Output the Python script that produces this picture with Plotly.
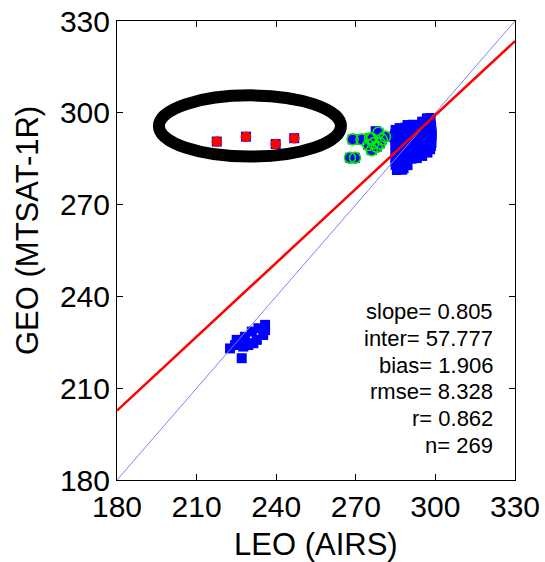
import plotly.graph_objects as go

# Brightness temperatures (K): LEO (AIRS) vs GEO (MTSAT-1R) collocations
main_x = [296.8, 298.2,
          295.0, 296.5, 298.0,
          289.5, 291.5, 293.5, 295.0, 296.8, 298.3,
          286.5, 288.5, 290.5, 292.5, 294.5, 296.5, 298.4,
          285.0, 287.0, 289.0, 291.0, 293.0, 295.0, 297.0, 298.5,
          284.8, 287.1, 289.2, 291.1, 292.9, 295.1, 297.0, 298.6,
          284.7, 286.9, 288.8, 290.9, 293.1, 294.9, 296.9, 298.5,
          284.9, 287.0, 289.1, 291.0, 293.0, 295.0, 297.1, 298.4,
          285.0, 287.2, 288.9, 291.2, 292.8, 295.2, 296.8, 298.5,
          285.1, 287.0, 289.0, 290.9, 293.1, 294.8, 297.0, 298.3,
          285.0, 286.8, 289.2, 291.0, 293.0, 295.1, 296.9, 298.0,
          285.0, 287.0, 289.0, 291.1, 293.0, 295.0, 297.0,
          285.1, 287.1, 288.9, 291.0, 292.9, 295.0,
          285.0, 287.0, 289.1, 291.0, 293.0,
          285.0, 287.0, 289.0,
          285.0, 287.0, 289.5,
          285.5, 288.0,
          285.5, 287.5,
          268.8, 272.2, 275.4, 278.5, 281.0, 276.6, 274.7, 276.0,
          277.9, 279.1, 276.0, 279.8, 277.5, 267.8, 269.7]
main_y = [298.2, 298.3,
          297.1, 297.0, 297.2,
          296.0, 296.1, 295.9, 296.0, 296.2, 295.8,
          295.0, 295.1, 294.9, 295.0, 295.1, 294.9, 295.0,
          294.4, 294.1, 293.9, 294.0, 294.2, 293.9, 294.0, 294.1,
          293.0, 293.1, 292.9, 293.0, 293.1, 292.9, 293.0, 293.1,
          292.0, 292.1, 291.9, 292.0, 292.1, 291.9, 292.0, 292.1,
          291.0, 291.1, 290.9, 291.0, 291.1, 290.9, 291.0, 291.1,
          290.0, 290.1, 289.9, 290.0, 290.1, 289.9, 290.0, 290.1,
          289.0, 289.1, 288.9, 289.0, 289.1, 288.9, 289.0, 289.1,
          288.0, 288.1, 287.9, 288.0, 288.1, 287.9, 288.0, 288.1,
          287.0, 287.1, 286.9, 287.0, 287.1, 286.9, 287.0,
          286.0, 286.1, 285.9, 286.0, 286.1, 285.9,
          285.0, 285.1, 284.9, 285.0, 285.2,
          284.0, 284.1, 283.9,
          283.0, 283.1, 282.9,
          282.0, 281.9,
          281.3, 281.4,
          291.3, 291.3, 291.7, 293.5, 292.2, 290.0, 289.5, 287.8,
          288.9, 290.0, 291.5, 291.3, 294.0, 285.3, 285.3]

# Cold cluster
cold_x = [222.6, 227.0, 225.1, 228.2, 229.5, 230.8, 233.3, 235.8,
          235.1, 232.7, 235.8, 227.6, 231.4, 224.5]
cold_y = [223.0, 219.8, 225.8, 226.8, 224.1, 228.5, 229.6, 230.7,
          227.4, 225.8, 229.0, 223.6, 224.7, 224.1]

# Flagged pairs (circled in green)
flag_x = [268.8, 272.2, 275.4, 278.5, 281.0, 276.6, 274.7, 276.0,
          277.9, 279.1, 276.0, 267.8, 269.7, 279.8]
flag_y = [291.3, 291.3, 291.7, 293.5, 292.2, 290.0, 289.5, 287.8,
          288.9, 290.0, 291.5, 285.3, 285.3, 291.3]

# Outliers (highlighted)
out_x = [217.6, 228.6, 239.8, 246.8]
out_y = [290.6, 292.2, 289.8, 291.7]

# Regression statistics
slope = 0.805
inter = 57.777
bias = 1.906
rmse = 8.328
r = 0.862
n = 269

axis_min, axis_max = 180, 330
tick_vals = [180, 210, 240, 270, 300, 330]

# Highlight ellipse around the outliers (data units)
ell_x0, ell_x1 = 195.8, 264.4
ell_y0, ell_y1 = 285.7, 305.7

FONT = "Liberation Sans, Arial, sans-serif"

fig = go.Figure()

fig.add_trace(go.Scatter(
    x=main_x + cold_x + out_x, y=main_y + cold_y + out_y, mode="markers",
    marker=dict(symbol="square", size=10, color="#0000FF", line=dict(width=0)),
    showlegend=False, hoverinfo="skip"))

fig.add_trace(go.Scatter(
    x=flag_x, y=flag_y, mode="markers",
    marker=dict(symbol="circle-open", size=11, color="#00EE00", line=dict(width=1.6)),
    showlegend=False, hoverinfo="skip"))

fig.add_trace(go.Scatter(
    x=out_x, y=out_y, mode="markers",
    marker=dict(symbol="circle", size=10.5, color="#FF0000", line=dict(width=0)),
    showlegend=False, hoverinfo="skip"))

# 1:1 line
fig.add_trace(go.Scatter(
    x=[axis_min, axis_max], y=[axis_min, axis_max], mode="lines",
    line=dict(color="#8080FF", width=1), showlegend=False, hoverinfo="skip"))

# Fitted regression line
fit_x = [axis_min, axis_max]
fit_y = [slope * v + inter for v in fit_x]
fig.add_trace(go.Scatter(
    x=fit_x, y=fit_y, mode="lines",
    line=dict(color="#FF0000", width=2.5), showlegend=False, hoverinfo="skip"))

fig.add_shape(type="circle", xref="x", yref="y",
              x0=ell_x0, x1=ell_x1, y0=ell_y0, y1=ell_y1,
              line=dict(color="black", width=12), layer="above")

stats = [f"slope= {slope:.3f}", f"inter= {inter:.3f}", f"bias= {bias:.3f}",
         f"rmse= {rmse:.3f}", f"r= {r:.3f}", f"n= {n}"]
for i, s in enumerate(stats):
    fig.add_annotation(text=s, xref="paper", yref="paper",
                       x=0.95, y=0.3667 - i * 0.0581,
                       xanchor="right", yanchor="middle", showarrow=False,
                       font=dict(family=FONT, size=22, color="black"))

fig.add_annotation(text="GEO (MTSAT-1R)", xref="paper", yref="paper",
                   x=-0.2236, y=0.5425, textangle=-90,
                   xanchor="center", yanchor="middle", showarrow=False,
                   font=dict(family=FONT, size=31, color="black"))
fig.add_annotation(text="LEO (AIRS)", xref="paper", yref="paper",
                   x=0.5, y=-0.1416, xanchor="center", yanchor="middle",
                   showarrow=False, font=dict(family=FONT, size=31, color="black"))

axis_style = dict(range=[axis_min, axis_max], tickvals=tick_vals,
                  ticks="inside", ticklen=6, tickwidth=1, tickcolor="black",
                  showline=True, linecolor="black", linewidth=1, mirror="ticks",
                  showgrid=False, zeroline=False, automargin=False,
                  tickfont=dict(family=FONT, size=30, color="black"))

fig.update_xaxes(**axis_style)
fig.update_yaxes(**axis_style)

fig.update_layout(width=545, height=562,
                  margin=dict(l=117, r=30, t=21, b=82, autoexpand=False),
                  paper_bgcolor="white", plot_bgcolor="white")

fig.write_html("out.html")
